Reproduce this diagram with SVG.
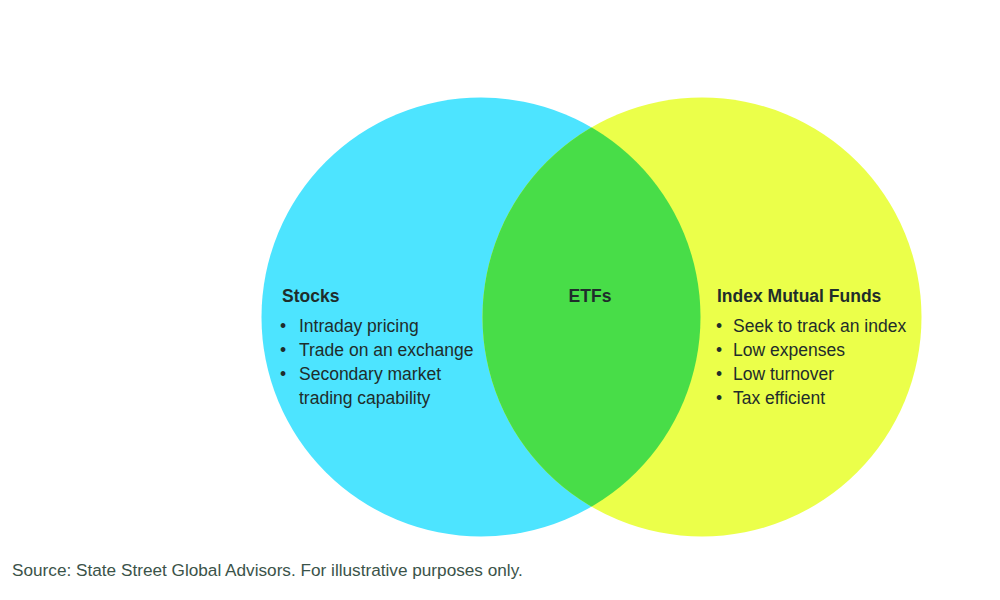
<svg xmlns="http://www.w3.org/2000/svg" width="1000" height="600" viewBox="0 0 1000 600">
<defs>
<clipPath id="clipLeft"><circle cx="481" cy="317" r="219.5"/></clipPath>
<style>
.t{font-family:"Liberation Sans",Arial,sans-serif;fill:#1f2d2b}
.h{font-size:17.5px;font-weight:bold}
.b{font-size:17.5px}
.src{font-family:"Liberation Sans",Arial,sans-serif;font-size:17.2px;fill:#3b5349}
</style>
</defs>
<rect width="1000" height="600" fill="#ffffff"/>
<g id="stocks">
<circle cx="481" cy="317" r="219.5" fill="#4de4ff"/>
<text class="t h" x="282" y="302">Stocks</text>
<text class="t b" x="280" y="332">•</text><text class="t b" x="299" y="332">Intraday pricing</text>
<text class="t b" x="280" y="356">•</text><text class="t b" x="299" y="356">Trade on an exchange</text>
<text class="t b" x="280" y="380">•</text><text class="t b" x="299" y="380">Secondary market</text>
<text class="t b" x="299" y="404">trading capability</text>
</g>
<g id="index-mutual-funds">
<circle cx="702" cy="317" r="219.5" fill="#ebff4a"/>
<text class="t h" x="717" y="302">Index Mutual Funds</text>
<text class="t b" x="716" y="332">•</text><text class="t b" x="733" y="332">Seek to track an index</text>
<text class="t b" x="716" y="356">•</text><text class="t b" x="733" y="356">Low expenses</text>
<text class="t b" x="716" y="380">•</text><text class="t b" x="733" y="380">Low turnover</text>
<text class="t b" x="716" y="404">•</text><text class="t b" x="733" y="404">Tax efficient</text>
</g>
<g id="etfs">
<circle cx="702" cy="317" r="219.5" fill="#48dd48" clip-path="url(#clipLeft)"/>
<text class="t h" x="590" y="302" text-anchor="middle">ETFs</text>
</g>
<g id="connectors"></g>
<text class="src" x="12" y="576">Source: State Street Global Advisors. For illustrative purposes only.</text>
</svg>
